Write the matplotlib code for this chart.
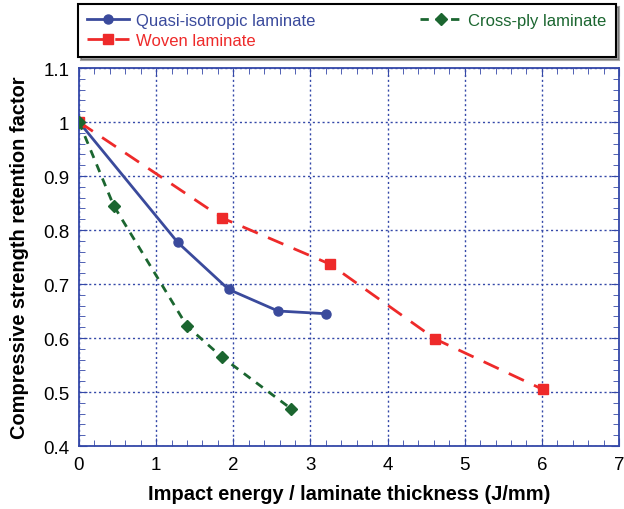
import matplotlib
matplotlib.use("Agg")
import matplotlib.pyplot as plt
from matplotlib.ticker import MultipleLocator

plt.rcParams['font.family'] = ['Liberation Sans', 'DejaVu Sans']

quasi_x = [0, 1.28, 1.94, 2.58, 3.20]
quasi_y = [1.0, 0.777, 0.690, 0.650, 0.645]
woven_x = [0, 1.86, 3.25, 4.62, 6.01]
woven_y = [1.0, 0.822, 0.737, 0.598, 0.505]
cross_x = [0, 0.45, 1.40, 1.85, 2.75]
cross_y = [1.0, 0.845, 0.622, 0.565, 0.469]

blue = "#3a4a9c"
red = "#ee2a2a"
green = "#1b6630"
axcol = "#3448a8"

fig = plt.figure(figsize=(6.24, 5.10), dpi=100)
ax = fig.add_axes([0.1266, 0.1235, 0.8654, 0.7412])

l1, = ax.plot(quasi_x, quasi_y, color=blue, lw=2, marker="o", ms=6.5,
              label="Quasi-isotropic laminate", zorder=3)
l2, = ax.plot(woven_x, woven_y, color=red, lw=2, ls=(0, (6, 4)), marker="s", ms=7,
              label="Woven laminate", zorder=3)
l3, = ax.plot(cross_x, cross_y, color=green, lw=2, ls=(0, (3, 2.5)), marker="D", ms=6.5,
              label="Cross-ply laminate", zorder=4)

ax.set_xlim(0, 7)
ax.set_ylim(0.4, 1.1)
ax.xaxis.set_major_locator(MultipleLocator(1))
ax.xaxis.set_minor_locator(MultipleLocator(0.2))
ax.yaxis.set_major_locator(MultipleLocator(0.1))
ax.yaxis.set_minor_locator(MultipleLocator(0.02))
ax.set_yticks([0.4, 0.5, 0.6, 0.7, 0.8, 0.9, 1.0, 1.1])
ax.set_yticklabels(["0.4", "0.5", "0.6", "0.7", "0.8", "0.9", "1", "1.1"])

ax.grid(True, which="major", color=axcol, ls=(0, (1.5, 2)), lw=1)
for s in ax.spines.values():
    s.set_color(axcol)
    s.set_linewidth(1.3)
ax.tick_params(which="both", direction="in", top=True, right=True, color=axcol,
               labelsize=13.5, pad=7)
ax.tick_params(which="major", length=6)
ax.tick_params(which="minor", length=4)

ax.set_xlabel("Impact energy / laminate thickness (J/mm)", fontsize=14.4,
              fontweight="bold", labelpad=8)
ax.set_ylabel("Compressive strength retention factor", fontsize=14.4,
              fontweight="bold", labelpad=10)

leg = fig.legend(handles=[l1, l2, l3], ncol=2, loc="upper left",
                 bbox_to_anchor=(0.125, 0.892, 0.862, 0.098), mode="expand",
                 fontsize=12, frameon=True, fancybox=False, shadow=True,
                 edgecolor="black", handlelength=2.5, handletextpad=0.4,
                 borderpad=0.55, labelspacing=0.3, borderaxespad=0)
leg.get_frame().set_linewidth(1.5)
for t, c in zip(leg.get_texts(), [blue, red, green]):
    t.set_color(c)

fig.savefig("out.png", dpi=100)
